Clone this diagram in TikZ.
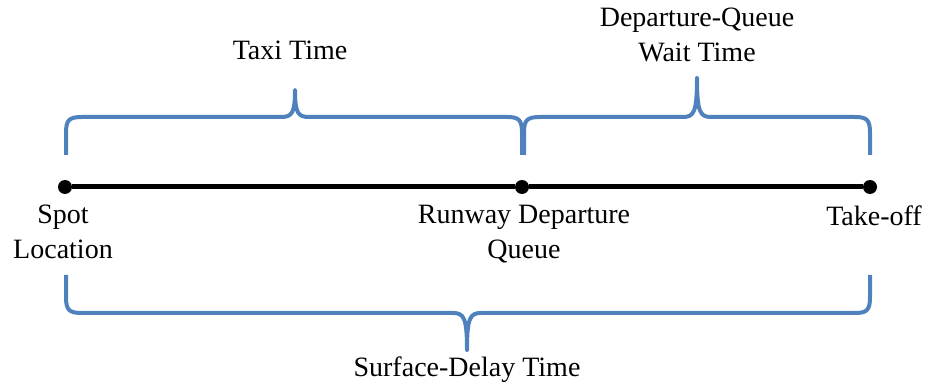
\documentclass[tikz,border=0pt]{standalone}
\usepackage{fontspec}
\setmainfont{Liberation Serif}
\usetikzlibrary{positioning}

\definecolor{bracecol}{RGB}{79,129,189}
\tikzset{
	stop/.style={circle, fill=black, inner sep=0pt, minimum size=7pt},
	timebrace/.style={draw=bracecol, line width=2pt, line join=round},
	lbl/.style={align=center, font=\fontsize{14}{17.5}\selectfont, inner sep=0pt}
}

\begin{document}
\begin{tikzpicture}[x=0.5pt, y=-0.5pt]
		\useasboundingbox (0,0) rectangle (928,390);

		\node[stop] (spot) at (65,187) {};
		\node[stop] (runway) at (522,187) {};
		\node[stop] (takeoff) at (870,187) {};
		\draw[line width=2.5pt] (spot) -- (runway) -- (takeoff);

		\node[lbl, anchor=north] (spotlbl) at (63,205) {Spot\\Location};
		\node[lbl, anchor=north] (runwaylbl) at (524,205) {Runway Departure\\Queue};
		\node[lbl, anchor=north] (takeofflbl) at (874,205) {Take-off};

		% taxi time
		\draw[timebrace] (66,155) -- (66,133)
		.. controls (66,120) and (69,117) .. (82,117) -- (281,117)
		.. controls (292,117) and (295,113) .. (295,90)
		.. controls (295,113) and (298,117) .. (309,117) -- (507,117)
		.. controls (519,117) and (522,120) .. (522,133) -- (522,155);
		\node[lbl] (taxi) at (290,50) {Taxi Time};

		% departure queue wait time
		\draw[timebrace] (524,155) -- (524,133)
		.. controls (524,120) and (527,117) .. (540,117) -- (683,117)
		.. controls (694,117) and (697,112) .. (697,78)
		.. controls (697,112) and (700,117) .. (711,117) -- (855,117)
		.. controls (867,117) and (870,120) .. (870,133) -- (870,155);
		\node[lbl] (wait) at (697,35) {Departure-Queue\\Wait Time};

		% surface delay time
		\draw[timebrace] (66,275) -- (66,297)
		.. controls (66,310) and (69,313) .. (82,313) -- (453,313)
		.. controls (464,313) and (467,318) .. (467,350)
		.. controls (467,318) and (470,313) .. (481,313) -- (855,313)
		.. controls (867,313) and (870,310) .. (870,297) -- (870,275);
		\node[lbl] (surface) at (467,370) {Surface-Delay Time};
\end{tikzpicture}
\end{document}
